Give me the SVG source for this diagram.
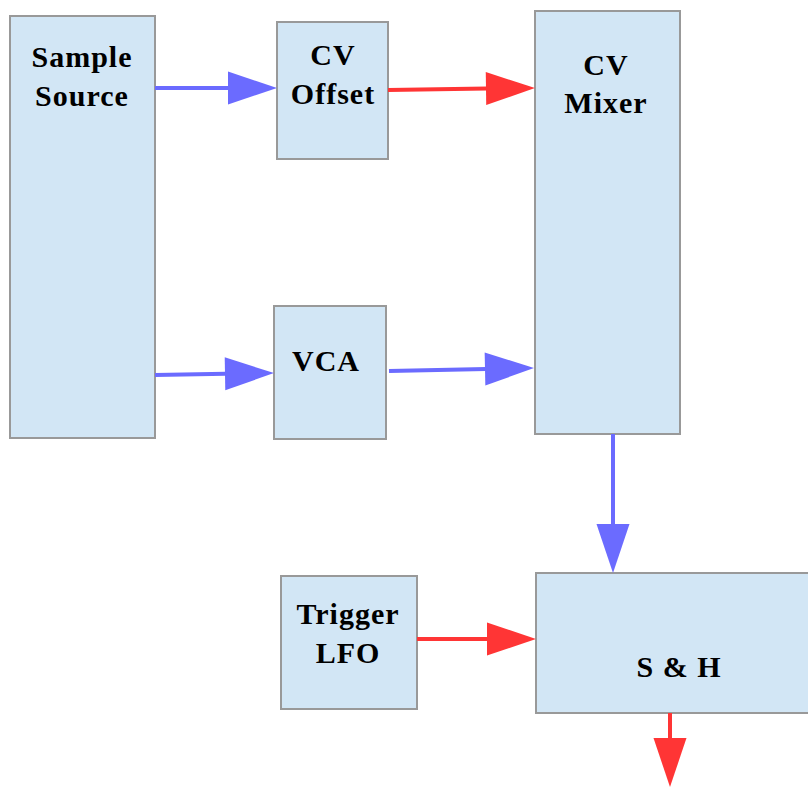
<svg xmlns="http://www.w3.org/2000/svg" width="808" height="787" viewBox="0 0 808 787">
<style>
.box{fill:#d2e6f5;stroke:#999999;stroke-width:2}
.lbl{font-family:"Liberation Serif","Times New Roman",serif;font-weight:bold;font-size:30px;letter-spacing:1px;text-anchor:middle;fill:#000}
.blue{stroke:#6b6bff;stroke-width:4;fill:none;marker-end:url(#hb)}
.red{stroke:#ff3535;stroke-width:4;fill:none;marker-end:url(#hr)}
</style>
<defs>
<marker id="hb" markerUnits="userSpaceOnUse" markerWidth="52" markerHeight="34" refX="1" refY="16.5" orient="auto" overflow="visible"><path d="M0,0 L49,16.5 L0,33 z" fill="#6b6bff"/></marker>
<marker id="hr" markerUnits="userSpaceOnUse" markerWidth="52" markerHeight="34" refX="1" refY="16.5" orient="auto" overflow="visible"><path d="M0,0 L49,16.5 L0,33 z" fill="#ff3535"/></marker>
</defs>
<rect width="808" height="787" fill="#ffffff"/>
<g id="sample-source"><rect class="box" x="10" y="16" width="145" height="422"/><text class="lbl" x="82" y="67">Sample</text><text class="lbl" x="82" y="106">Source</text></g>
<g id="cv-offset"><rect class="box" x="277" y="22" width="111" height="137"/><text class="lbl" x="333" y="65">CV</text><text class="lbl" x="333" y="104">Offset</text></g>
<g id="cv-mixer"><rect class="box" x="535" y="11" width="145" height="423"/><text class="lbl" x="606" y="75">CV</text><text class="lbl" x="606" y="113">Mixer</text></g>
<g id="vca"><rect class="box" x="274" y="306" width="112" height="133"/><text class="lbl" x="326" y="371">VCA</text></g>
<g id="trigger-lfo"><rect class="box" x="281" y="576" width="136" height="133"/><text class="lbl" x="348" y="624">Trigger</text><text class="lbl" x="348" y="663">LFO</text></g>
<g id="s-and-h"><rect class="box" x="536" y="573" width="280" height="140"/><text class="lbl" x="679" y="677">S &amp; H</text></g>
<g id="connectors">
<line class="blue" x1="155" y1="88" x2="229" y2="88"/>
<line class="red" x1="388" y1="90" x2="487" y2="88.6"/>
<line class="blue" x1="155" y1="375" x2="226" y2="373.8"/>
<line class="blue" x1="389" y1="371" x2="486" y2="369"/>
<line class="blue" x1="613" y1="434" x2="613" y2="525"/>
<line class="red" x1="417" y1="639" x2="488" y2="639"/>
<line class="red" x1="670" y1="713" x2="670" y2="739"/>
</g>
</svg>
